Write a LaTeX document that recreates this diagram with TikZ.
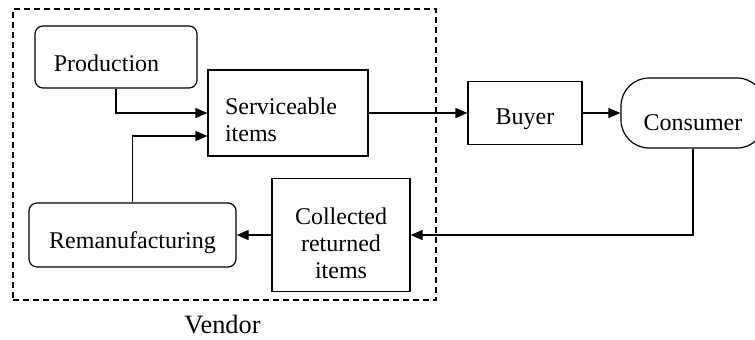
\documentclass[tikz,border=0pt]{standalone}
\usepackage{fontspec}
\setmainfont{Liberation Serif}
\usetikzlibrary{arrows.meta,calc}
\begin{document}
\begin{tikzpicture}[x=0.5pt,y=-0.5pt,
  box/.style={draw, line width=0.6pt, inner sep=0pt},
  rbox/.style={box, rounded corners=4pt},
  txt/.style={font=\fontsize{12}{13.5}\selectfont, align=center, inner sep=0pt},
  arr/.style={line width=0.6pt, -{Triangle[length=6pt,width=5pt]}},
  line width=0.6pt]
\useasboundingbox (0,0) rectangle (755,339);
\node[box, dash pattern=on 3pt off 2pt, minimum width=211.5pt, minimum height=145.5pt] (vendor) at (224.5,154.5) {};
\node[txt, font=\fontsize{13.2}{15}\selectfont, anchor=base] (vlabel) at (222.5,333) {Vendor};
\node[rbox, minimum width=81pt, minimum height=31pt,
  label={[txt,xshift=-4.75pt,yshift=-3pt]center:Production}] (prod) at (116,57) {};
\node[box, minimum width=80pt, minimum height=43pt,
  label={[txt,align=left,text width=63pt,yshift=-3.5pt]center:Serviceable\\items}] (serv) at (288,113) {};
\node[box, minimum width=57pt, minimum height=31.5pt,
  label={[txt,yshift=-3pt]center:Buyer}] (buyer) at (525,113) {};
\node[box, rounded corners=14pt, minimum width=72pt, minimum height=35pt,
  label={[txt,yshift=-5pt]center:Consumer}] (cons) at (693,113) {};
\node[box, minimum width=69pt, minimum height=56.5pt,
  label={[txt,yshift=-4pt]center:Collected\\returned\\items}] (coll) at (341,235) {};
\node[rbox, minimum width=103.5pt, minimum height=32pt,
  label={[txt,yshift=-4pt]center:Remanufacturing}] (rem) at (132.5,235) {};
\draw[arr] (prod.south) |- (serv.west);
\draw[arr] (rem.north) |- ($(serv.west)+(0,23)$);
\draw[arr] (serv.east) -- (buyer.west);
\draw[arr] (buyer.east) -- (cons.west);
\draw[arr] (cons.south) |- (coll.east);
\draw[arr] (coll.west) -- (rem.east);
\end{tikzpicture}
\end{document}
